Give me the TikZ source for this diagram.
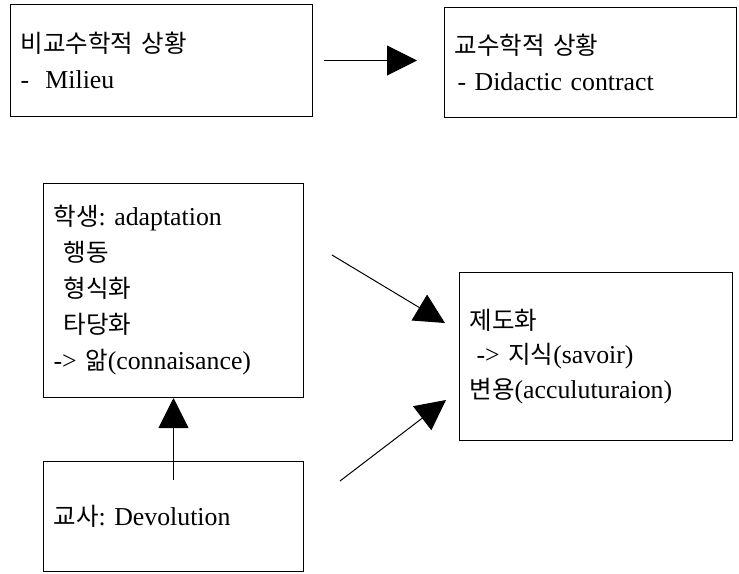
\documentclass[tikz,border=0pt]{standalone}
\usepackage{fontspec}
\setmainfont{Liberation Serif}
\newfontfamily\kr[Scale=0.95]{Noto Sans CJK KR}
\usetikzlibrary{arrows.meta}
\frenchspacing

\begin{document}
\begin{tikzpicture}[x=1pt,y=-1pt,
  box/.style={draw=black, line width=1pt, rectangle, anchor=north west,
    inner xsep=10pt, inner ysep=0pt, align=left,
    font=\fontsize{25.8}{36}\selectfont},
  link/.style={line width=1pt, -{Triangle[length=30pt,width=30pt]}}]
\useasboundingbox (0,0) rectangle (739,573);

% situations
\node[box, minimum width=302pt, minimum height=112pt, text width=282pt] (b1) at (10,4)
  {{\kr 비교수학적 상황}\\\makebox[25pt][l]{-}Milieu};
\node[box, minimum width=292pt, minimum height=110pt, text width=272pt] (b2) at (444,7)
  {{\kr 교수학적 상황}\\\hspace*{3pt}- Didactic contract};

% student, teacher, knowledge
\node[box, minimum width=260pt, minimum height=214pt, text width=240pt] (b3) at (43,183)
  {{\kr 학생}: adaptation\\\hspace*{10pt}{\kr 행동}\\\hspace*{10pt}{\kr 형식화}\\\hspace*{10pt}{\kr 타당화}\\-> {\kr 앎}(connaisance)};
\node[box, minimum width=273pt, minimum height=168pt, text width=253pt,
  font=\fontsize{25.8}{34.5}\selectfont] (b4) at (459,272)
  {{\kr 제도화}\\\hspace*{7pt}-> {\kr 지식}(savoir)\\{\kr 변용}(acculuturaion)};
\node[box, minimum width=260pt, minimum height=110pt, text width=240pt] (b5) at (43,461)
  {{\kr 교사}: Devolution};

% connectors
\draw[link, shorten <=11pt, shorten >=27pt] (b1.east) -- (b1.east -| b2.west);
\draw[link, shorten <=-19pt] (b5.north) -- (b3.south);
\coordinate (s3) at (332,255);
\coordinate (e3) at (445,323);
\coordinate (s5) at (340,481);
\coordinate (e5) at (446,400);
\draw[link] (s3) -- (e3);
\draw[link] (s5) -- (e5);
\end{tikzpicture}
\end{document}
